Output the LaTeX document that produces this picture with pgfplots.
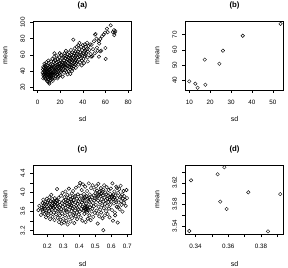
\documentclass[border=0pt]{standalone}
\usepackage{fontspec}
\setmainfont{Liberation Sans}
\usepackage{pgfplots}
\pgfplotsset{compat=1.18}

% common look of the four scatter panels (base-graphics style)
\pgfplotsset{
  rpanel/.style={
    scale only axis, width=98.4pt, height=68.6pt,
    anchor=south west,
    axis line style={line width=0.55pt},
    tick align=outside, tick pos=left,
    major tick length=3pt,
    every tick/.style={line width=0.55pt, black},
    every tick label/.append style={font=\fontsize{6.3}{7}\selectfont, inner sep=0pt},
    xticklabel style={anchor=center},
    yticklabel style={rotate=90, anchor=center},
    xticklabel shift=9.5pt,
    yticklabel shift=7.6pt,
    xlabel={sd}, ylabel={mean},
    every axis x label/.style={at={(axis description cs:0.5,0)}, anchor=center,
      yshift=-29.4pt, font=\fontsize{7}{8}\selectfont},
    every axis y label/.style={at={(axis description cs:0,0.5)}, xshift=-27.8pt,
      rotate=90, anchor=center, font=\fontsize{7}{8}\selectfont},
    every axis title/.style={at={(axis description cs:0.5,1)}, anchor=center,
      yshift=15.7pt, font=\bfseries\fontsize{7.8}{9}\selectfont},
  },
  rpts/.style={only marks, mark=o, mark size=1.75pt, black,
    mark options={line width=0.42pt}},
}

\begin{document}
\begin{tikzpicture}
\useasboundingbox (0pt,0pt) rectangle (288pt,267pt);

% ---------- (a) ----------
\begin{axis}[rpanel, at={(33.3pt,177.2pt)}, title={(a)},
  xmin=-3.8, xmax=83.2, ymin=16.9, ymax=101.6,
  xtick={0,20,40,60,80}, xticklabels={0,20,40,60,80},
  ytick={20,40,60,80,100}, yticklabels={20,40,60,80,100}]
\addplot[rpts] coordinates {
(4.5,38)(4.8,42)(5.1,35)(5.3,40)(5.6,44)(5.8,33)(6.0,37)(6.2,41)(6.4,46)(6.5,31)
(6.7,39)(6.9,35)(7.0,43)(7.2,48)(7.4,30)(7.5,37)(7.7,41)(7.9,34)(8.0,45)(8.2,39)
(8.3,28)(8.5,36)(8.6,42)(8.8,32)(9.0,47)(9.1,38)(9.3,44)(9.4,30)(9.6,35)(9.8,41)
(10.0,50)(10.1,33)(10.2,26)(10.3,38)(10.4,24.5)(10.5,45)(10.7,36)(10.8,31)(11.0,42)(11.1,39)
(11.2,48)(11.4,34)(11.5,29)(11.7,44)(11.8,37)(12.0,52)(12.0,40)(6.1,49)(7.8,51)(5.0,31)
(8.9,27)(9.5,53)(10.9,46)(6.6,33)(7.3,45)(8.4,40)(9.2,36)(10.6,42)(11.3,31)(11.9,35)
(5.5,36)(4.9,45)
(12.2,33)(12.4,46)(12.5,38)(12.7,43)(12.9,30)(13.0,55)(13.1,35)(13.3,41)(13.5,48)(13.6,37)
(13.8,32)(14.0,44)(14.1,51)(14.3,39)(14.5,35)(14.6,46)(14.8,58)(15.0,41)(15.1,31)(15.3,49)
(15.4,37)(15.6,44)(15.8,53)(16.0,40)(16.1,34)(16.3,47)(16.5,42)(16.6,59)(16.8,38)(17.0,51)
(17.2,45)(17.3,36)(17.5,48)(17.7,41)(17.9,55)(18.0,33)(18.2,46)(18.4,39)(18.5,52)(18.7,43)
(18.9,49)(19.0,37)(19.2,57)(19.4,45)(19.5,41)(19.7,50)(19.9,35)(20.0,47)(20.2,53)(20.4,43)
(20.6,39)(20.8,60)(21.0,48)(21.2,44)(21.4,51)(21.6,41)(21.8,56)(22.0,46)(22.2,33.1)(14.9,62)
(13.4,28)(17.6,31)(19.6,62)(15.5,54)(18.8,34)
(22.5,50)(22.7,42)(23.0,57)(23.2,47)(23.4,38)(23.6,53)(23.8,62)(24.0,45)(24.2,50)(24.4,41)
(24.6,56)(24.8,48)(25.0,65)(25.2,44)(25.4,52)(25.6,39)(25.8,58)(26.0,47)(26.2,54)(26.4,43)
(26.6,61)(26.8,50)(27.0,46)(27.2,57)(27.4,40)(27.6,53)(27.8,63)(28.0,49)(28.2,45)(28.4,59)
(28.6,52)(28.8,42)(29.0,56)(29.2,48)(29.4,66)(29.6,54)(29.8,44)(30.0,60)(30.2,51)(30.4,47)
(30.6,57)(30.8,63)(31.0,53)(31.2,43)(31.4,49)(31.6,78.8)(31.8,59)(32.0,55)(32.2,46)(32.4,62)
(32.6,51)(32.8,68)(33.0,57)(33.2,48)(33.4,53)(33.6,64)(33.8,44)(34.0,59)(34.2,55)(34.4,50)
(34.6,70)(34.8,61)(35.0,52)(26.5,36)(30.5,40)(24.1,59)(28.9,36.5)
(35.3,57)(35.6,64)(35.9,48)(36.2,60)(36.5,54)(36.8,67)(37.0,74.7)(37.3,58)(37.6,51)(37.9,63)
(38.2,56)(38.5,70)(38.8,61)(39.1,53)(39.4,66)(39.7,59)(40.0,72)(40.3,62)(40.6,55)(40.9,68)
(41.2,64)(41.5,58)(41.8,73)(42.1,66)(42.4,60)(42.7,70)(43.0,62)(43.4,67)(43.8,75)(44.2,57)
(44.6,64)(45.0,71)(39.0,47)(41.0,50)(36.0,72)(44.4,52)
(45.8,66)(46.5,73)(47.0,61)(47.3,57.8)(47.8,72.5)(48.3,58.3)(49.0,67)(49.8,76.8)(50.5,62)(50.7,85)
(51.3,85.8)(52.0,80)(52.5,69)(53.0,65)(54.2,57.8)(54.2,77)(54.5,74)(55.4,79.6)(55.5,64.4)(56.3,65.2)
(57.0,83)(58.4,85)(59.6,87.4)(59.9,68.5)(60.2,55)(61.3,92.4)(62.0,88)(64.6,96.5)(66.5,88)(67.5,90.5)
(68.2,87.5)(68.8,89.5)(67.8,84.5)
};
\end{axis}

% ---------- (b) ----------
\begin{axis}[rpanel, at={(185.3pt,177.2pt)}, title={(b)},
  xmin=8.1, xmax=55.2, ymin=33.75, ymax=78.9,
  xtick={10,20,30,40,50}, xticklabels={10,20,30,40,50},
  ytick={40,50,60,70}, yticklabels={40,50,60,70}]
\addplot[rpts] coordinates {
(10.0,39.3)(12.9,37.8)(14.0,35.1)(17.7,37.1)(17.4,53.6)
(24.4,50.9)(26.1,59.5)(35.6,69.3)(53.7,77.2)
};
\end{axis}

% ---------- (c) ----------
\begin{axis}[rpanel, at={(33.3pt,32.9pt)}, title={(c)},
  xmin=0.1125, xmax=0.7275, ymin=3.129, ymax=4.563,
  xtick={0.2,0.3,0.4,0.5,0.6,0.7}, xticklabels={0.2,0.3,0.4,0.5,0.6,0.7},
  ytick={3.2,3.4,3.6,3.8,4.0,4.2,4.4}, yticklabels={3.2,,3.6,,4.0,,4.4}]
\addplot[rpts] coordinates {
(0.144,3.63)(0.150,3.72)(0.160,3.53)(0.165,3.68)(0.170,3.78)(0.172,3.60)(0.175,3.85)(0.178,3.71)(0.182,3.55)(0.185,3.66)
(0.188,3.80)(0.190,3.74)(0.192,3.48)(0.195,3.62)(0.197,3.87)(0.199,3.70)(0.183,3.76)(0.168,3.64)(0.193,3.58)(0.176,3.67)
(0.201,3.79)(0.203,3.66)(0.205,3.52)(0.207,3.83)(0.209,3.74)(0.211,3.61)(0.213,3.90)(0.215,3.77)(0.217,3.44)(0.219,3.70)
(0.221,3.82)(0.223,3.57)(0.225,3.95)(0.227,3.73)(0.229,3.64)(0.231,3.86)(0.233,3.49)(0.235,3.78)(0.237,3.68)(0.239,3.81)
(0.241,3.58)(0.243,3.75)(0.245,3.42)(0.247,3.88)(0.249,3.71)(0.251,3.63)(0.253,3.79)(0.255,3.54)(0.257,3.84)(0.259,3.67)
(0.261,4.07)(0.263,3.76)(0.265,3.47)(0.267,3.72)(0.269,3.60)(0.271,3.89)(0.273,3.38)(0.275,3.69)(0.277,3.80)(0.279,3.52)
(0.281,3.74)(0.283,3.43)(0.285,3.93)(0.287,3.65)(0.289,3.35)(0.291,3.78)(0.293,3.56)(0.295,3.99)(0.297,3.70)(0.299,3.45)
(0.222,3.68)(0.236,3.72)(0.248,3.80)(0.262,3.83)(0.278,3.61)
(0.301,3.82)(0.303,3.62)(0.305,3.37)(0.307,3.90)(0.309,3.74)(0.311,3.52)(0.313,4.02)(0.315,3.68)(0.317,3.85)(0.319,3.41)
(0.321,3.77)(0.323,3.59)(0.325,3.95)(0.327,3.33)(0.329,3.71)(0.331,3.88)(0.333,3.48)(0.335,4.08)(0.337,3.64)(0.339,3.80)
(0.341,3.55)(0.343,3.92)(0.345,3.39)(0.347,3.73)(0.349,3.86)(0.351,3.61)(0.353,3.98)(0.355,3.46)(0.357,3.78)(0.359,3.67)
(0.361,4.03)(0.363,3.53)(0.365,3.84)(0.367,3.70)(0.369,3.36)(0.371,3.91)(0.373,3.62)(0.375,3.79)(0.377,3.50)(0.379,4.10)
(0.381,3.72)(0.383,3.58)(0.385,3.87)(0.387,3.44)(0.389,3.76)(0.391,3.96)(0.393,3.65)(0.395,3.82)(0.397,3.54)(0.399,4.14)
(0.312,3.79)(0.328,3.84)(0.344,3.69)(0.358,3.89)(0.374,3.93)(0.388,3.68)(0.318,3.62)(0.338,3.74)(0.352,3.81)(0.368,3.57)
(0.401,3.86)(0.403,3.60)(0.405,4.20)(0.407,3.74)(0.409,3.48)(0.411,3.93)(0.413,3.66)(0.415,4.05)(0.417,3.79)(0.419,3.41)
(0.421,3.70)(0.423,4.17)(0.425,3.88)(0.427,3.62)(0.429,3.97)(0.431,3.55)(0.433,3.83)(0.435,3.68)(0.437,4.12)(0.439,3.38)
(0.441,3.76)(0.443,3.65)(0.445,3.92)(0.447,3.58)(0.449,4.03)(0.451,3.71)(0.453,3.45)(0.455,3.87)(0.457,3.63)(0.459,4.19)
(0.461,3.80)(0.463,3.52)(0.465,3.96)(0.467,3.69)(0.469,3.85)(0.471,3.42)(0.473,4.09)(0.475,3.74)(0.477,3.60)(0.479,3.90)
(0.481,3.66)(0.483,4.15)(0.485,3.78)(0.487,3.49)(0.489,3.94)(0.491,3.71)(0.493,3.83)(0.495,4.06)(0.497,3.57)(0.499,3.88)
(0.428,3.67)(0.436,3.64)(0.444,3.70)(0.452,3.66)(0.446,3.62)(0.438,3.72)(0.456,3.82)(0.462,3.89)(0.422,3.84)(0.434,3.90)
(0.501,3.98)(0.503,3.74)(0.505,4.13)(0.507,3.62)(0.509,3.89)(0.511,4.04)(0.513,3.56)(0.515,3.35)(0.517,3.83)(0.519,4.18)
(0.521,3.70)(0.523,3.95)(0.525,3.50)(0.527,4.02)(0.529,3.79)(0.531,3.64)(0.533,3.92)(0.535,4.09)(0.537,3.58)(0.539,3.86)
(0.541,3.99)(0.543,3.73)(0.545,3.46)(0.547,3.94)(0.549,4.06)(0.550,3.21)(0.551,3.81)(0.553,3.67)(0.555,4.15)(0.557,3.89)
(0.559,3.52)(0.561,3.76)(0.563,4.00)(0.565,3.84)(0.567,3.61)(0.569,3.96)(0.571,4.11)(0.573,3.72)(0.575,3.87)(0.577,3.55)
(0.579,3.93)(0.581,3.80)(0.583,4.05)(0.585,3.66)(0.587,3.90)(0.589,3.48)(0.591,3.85)(0.593,3.97)(0.595,3.74)(0.597,4.08)
(0.599,3.82)(0.512,3.96)(0.524,4.01)(0.536,3.97)(0.546,4.02)(0.518,3.92)
(0.601,3.91)(0.604,3.63)(0.607,4.19)(0.610,3.41)(0.613,3.86)(0.616,3.77)(0.619,4.02)(0.622,3.58)(0.625,3.94)(0.628,3.84)
(0.631,4.12)(0.634,3.70)(0.637,3.88)(0.640,3.37)(0.643,3.99)(0.646,3.79)(0.649,4.07)(0.652,3.65)(0.655,3.90)(0.658,4.14)
(0.661,3.82)(0.664,3.74)(0.667,3.96)(0.670,3.60)(0.673,3.87)(0.676,4.03)(0.679,3.78)(0.682,3.92)(0.685,3.85)(0.690,3.72)
(0.695,4.05)(0.698,3.88)(0.606,3.93)(0.612,3.96)(0.618,3.89)(0.624,3.52)(0.630,3.80)(0.636,4.09)(0.644,3.69)(0.660,3.92)
};
\end{axis}

% ---------- (d) ----------
\begin{axis}[rpanel, at={(185.3pt,32.9pt)}, title={(d)},
  xmin=0.3338, xmax=0.3938, ymin=3.525, ymax=3.652,
  xtick={0.34,0.35,0.36,0.37,0.38,0.39}, xticklabels={0.34,,0.36,,0.38,},
  ytick={3.54,3.56,3.58,3.60,3.62,3.64}, yticklabels={3.54,,3.58,,3.62,}]
\addplot[rpts] coordinates {
(0.3362,3.5307)(0.3373,3.6246)(0.3535,3.6357)(0.3576,3.6487)(0.3551,3.585)
(0.3590,3.5715)(0.3722,3.6024)(0.3842,3.530)(0.3917,3.599)
};
\end{axis}
\end{tikzpicture}
\end{document}
